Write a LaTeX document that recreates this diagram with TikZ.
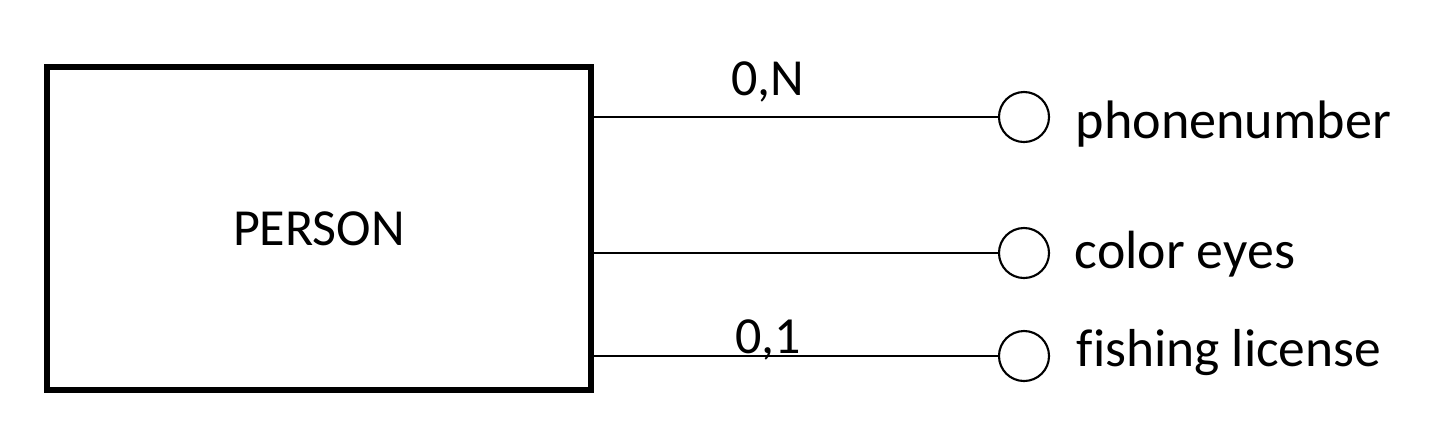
\documentclass[tikz,border=0pt]{standalone}
\usepackage{fontspec}
\setmainfont[Ligatures=NoCommon]{Carlito}
\begin{document}
\begin{tikzpicture}[
    x=0.01cm, y=-0.01cm,
    font=\fontsize{14.8}{18}\selectfont,
    entity/.style = {draw, rectangle, line width=1.7pt, minimum width=5.44cm, minimum height=3.23cm, inner sep=0pt},
    attr/.style   = {draw, circle, line width=0.6pt, minimum size=0.5cm, inner sep=0pt},
    txt/.style    = {anchor=base west, inner sep=0pt},
    card/.style   = {anchor=base, inner sep=0pt},
    conn/.style   = {line width=0.6pt},
  ]
  \useasboundingbox (0,0) rectangle (1437,426);

  % Entitaet
  \node[entity] (person) at (319,228.5) {PERSON};

  % Attribute
  \node[attr] (ph) at (1024,117) {};
  \node[attr] (ce) at (1024,253) {};
  \node[attr] (fl) at (1024,356) {};

  \node[txt, font=\fontsize{15.4}{18}\selectfont] (phl) at (1075,138) {phonenumber};
  \node[txt, font=\fontsize{15.3}{18}\selectfont] (cel) at (1074,268) {color eyes};
  \node[txt, font=\fontsize{15.2}{18}\selectfont] (fll) at (1076,366) {fishing license};

  % Verbindungen
  \draw[conn] (person.east |- ph) -- (ph.west);
  \draw[conn] (person.east |- ce) -- (ce.west);
  \draw[conn] (person.east |- fl) -- (fl.west);

  % Kardinalitaeten
  \node[card] (c1) at (768,95) {0,N};
  \node[card] (c3) at (768,353) {0,1};

\end{tikzpicture}
\end{document}
